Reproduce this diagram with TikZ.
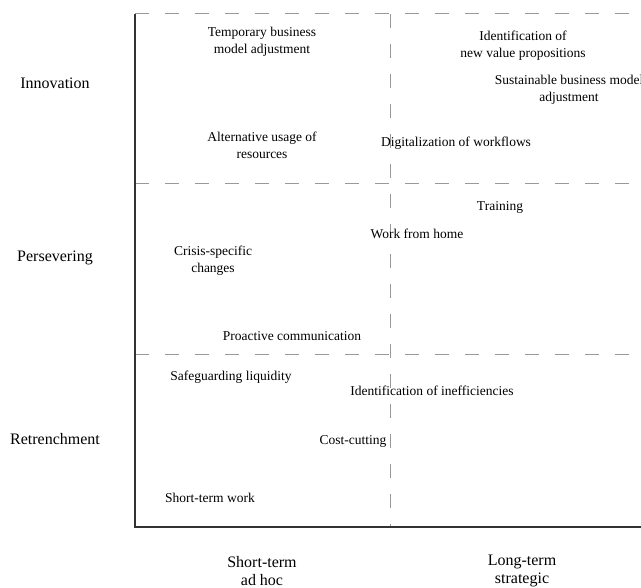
\documentclass[tikz,border=0pt]{standalone}
\usepackage{fontspec}
\setmainfont{Liberation Serif}
\begin{document}
\begin{tikzpicture}[x=1pt, y=-1pt]
    % Define styles
    \tikzset{
        axisline/.style={black!80, line width=1.6pt},
        gridline/.style={black!40, line width=1pt, dash pattern=on 14pt off 16pt},
        itemtext/.style={font=\fontsize{13.5}{17}\selectfont, align=center, inner sep=0pt},
        dimlabel/.style={font=\fontsize{16}{18}\selectfont, align=center, inner sep=0pt}
    }
    \useasboundingbox (0,0) rectangle (641,588);

    % Corners of the matrix
    \coordinate (topleft) at (135,14);
    \coordinate (origin) at (135,527);
    \coordinate (bottomright) at (645,527);
    \coordinate (topright) at (645,14);
    \coordinate (midtop) at (390,14);
    \coordinate (midbottom) at (390,527);
    \coordinate (rowA) at (135,184);
    \coordinate (rowAend) at (645,184);
    \coordinate (rowB) at (135,355);
    \coordinate (rowBend) at (645,355);

    % Grid lines
    \draw[gridline] (topleft) -- (topright);
    \draw[gridline] (rowA) -- (rowAend);
    \draw[gridline] (rowB) -- (rowBend);
    \draw[gridline] (midtop) -- (midbottom);

    % Axes
    \draw[axisline] (topleft) -- (origin) -- (bottomright);

    % Row labels
    \node[dimlabel] (innovation) at (55,83) {Innovation};
    \node[dimlabel] (persevering) at (55,258) {Persevering};
    \node[dimlabel] (retrenchment) at (55,439) {Retrenchment};

    % Column labels
    \node[dimlabel] (shortterm) at (262,571) {Short-term\\ad hoc};
    \node[dimlabel] (longterm) at (522,571) {Long-term\\strategic};

    % Innovation
    \node[itemtext] (tempbm) at (262,42) {Temporary business\\model adjustment};
    \node[itemtext] (newvalue) at (523,46) {Identification of\\new value propositions};
    \node[itemtext] (sustbm) at (569,90) {Sustainable business model\\adjustment};
    \node[itemtext] (altres) at (262,145) {Alternative usage of\\resources};
    \node[itemtext] (digital) at (456,143) {Digitalization of workflows};

    % Persevering
    \node[itemtext] (training) at (500,207) {Training};
    \node[itemtext] (wfh) at (417,234) {Work from home};
    \node[itemtext] (crisis) at (213,261) {Crisis-specific\\changes};
    \node[itemtext] (proactive) at (292,336) {Proactive communication};

    % Retrenchment
    \node[itemtext] (liquidity) at (231,377) {Safeguarding liquidity};
    \node[itemtext] (ineff) at (432,391) {Identification of inefficiencies};
    \node[itemtext] (costcut) at (353,441) {Cost-cutting};
    \node[itemtext] (stwork) at (210,498) {Short-term work};

\end{tikzpicture}
\end{document}
